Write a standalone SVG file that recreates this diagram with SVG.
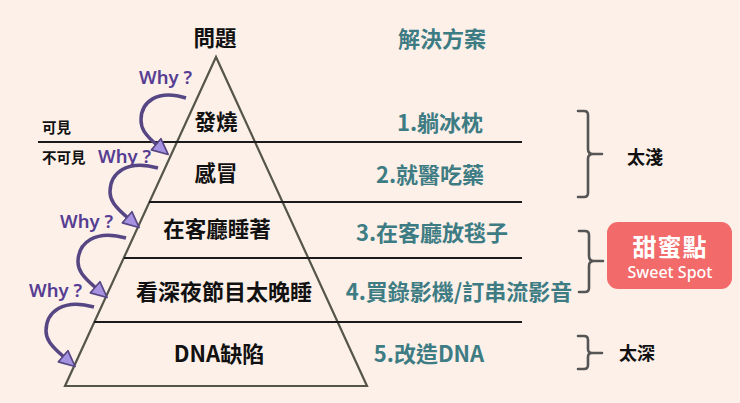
<svg xmlns="http://www.w3.org/2000/svg" width="740" height="403" viewBox="0 0 740 403">
<defs>
<style>
.bk{font-family:"Noto Sans CJK TC","Noto Sans",sans-serif;font-weight:700;fill:#111;text-anchor:middle}
.tl{font-family:"Noto Sans CJK TC","Noto Sans",sans-serif;font-weight:700;fill:#3e7c84;text-anchor:middle;font-size:22px}
.sm{font-family:"Noto Sans CJK TC","Noto Sans",sans-serif;font-weight:700;fill:#111;font-size:14.5px}
.why{font-family:"Noto Sans","Open Sans",sans-serif;font-weight:600;fill:#563d93;font-size:18.5px}
.hl{stroke:#1a1a1a;stroke-width:2;fill:none}
.br{stroke:#555;stroke-width:2.6;fill:none;stroke-linecap:round;stroke-linejoin:round}
.arc{stroke:#574684;stroke-width:3.5;fill:none;marker-end:url(#ah)}
</style>
<marker id="ah" markerUnits="userSpaceOnUse" markerWidth="18" markerHeight="18" viewBox="-1 -1 16 16" refX="1" refY="7" orient="auto">
<path d="M0,0.5 L14,7 L0,13.5 z" fill="#a592e0" stroke="#574684" stroke-width="1.5" stroke-linejoin="round"/>
</marker>
</defs>
<rect width="740" height="403" fill="#fcf0e8"/>
<g id="pyramid">
<polygon points="216,57 65,386 367,386" fill="none" stroke="#55554b" stroke-width="2.2" stroke-linejoin="miter"/>
<line class="hl" x1="38" y1="142" x2="522" y2="142"/>
<line class="hl" x1="149" y1="202" x2="522" y2="202"/>
<line class="hl" x1="124" y1="258" x2="522" y2="258"/>
<line class="hl" x1="94" y1="322" x2="522" y2="322"/>
</g>
<g id="headers">
<text class="bk" x="215" y="46" font-size="21.5">問題</text>
<text class="tl" x="442" y="47">解決方案</text>
</g>
<g id="level1">
<text class="bk" x="216" y="130" font-size="21.5">發燒</text>
<text class="tl" x="440" y="131">1.躺冰枕</text>
</g>
<g id="level2">
<text class="bk" x="216" y="181" font-size="21.5">感冒</text>
<text class="tl" x="430" y="183">2.就醫吃藥</text>
</g>
<g id="level3">
<text class="bk" x="217" y="237" font-size="21.5">在客廳睡著</text>
<text class="tl" x="432" y="241">3.在客廳放毯子</text>
</g>
<g id="level4">
<text class="bk" x="224" y="300" font-size="22">看深夜節目太晚睡</text>
<text class="tl" x="459" y="300">4.買錄影機/訂串流影音</text>
</g>
<g id="level5">
<text class="bk" x="219" y="362" font-size="22">DNA缺陷</text>
<text class="tl" x="429" y="362">5.改造DNA</text>
</g>
<g id="visibility">
<text class="sm" x="42" y="133">可見</text>
<text class="sm" x="42" y="163">不可見</text>
</g>
<g id="why-labels">
<text class="why" x="139" y="84">Why ?</text>
<text class="why" x="98" y="163">Why ?</text>
<text class="why" x="60" y="228">Why ?</text>
<text class="why" x="29" y="297">Why ?</text>
</g>
<g id="connectors">
<path class="arc" d="M186,98 C157,89 141,102 141,120 C141,128 144,134 157,145"/>
<path class="arc" d="M158,168 C127,159 110,173 110,192 C110,200 114,206 128,218"/>
<path class="arc" d="M126,238 C95,229 78,243 78,262 C78,270 82,276 96,288"/>
<path class="arc" d="M94,307 C63,298 46,312 46,331 C46,339 50,345 64,357"/>
</g>
<g id="bracket-shallow">
<path class="br" d="M578,111 L584,111 Q588,111 588,115 L588,149 Q588,154 593,154 L602,154 M593,154 Q588,154 588,159 L588,193 Q588,197 584,197 L578,197"/>
<text class="bk" x="645" y="164" font-size="18">太淺</text>
</g>
<g id="bracket-sweet">
<path class="br" d="M579,231 L585,231 Q589,231 589,235 L589,256 Q589,261 594,261 L603,261 M594,261 Q589,261 589,266 L589,288 Q589,292 585,292 L579,292"/>
<rect x="607" y="222" width="125" height="67" rx="11" fill="#f26a69"/>
<text x="670" y="256" font-family="Noto Sans CJK TC, Noto Sans, sans-serif" font-weight="700" font-size="24" fill="#fff" text-anchor="middle" letter-spacing="1">甜蜜點</text>
<text x="670" y="278" font-family="Noto Sans, Open Sans, sans-serif" font-weight="500" font-size="16" fill="#fff" text-anchor="middle">Sweet Spot</text>
</g>
<g id="bracket-deep">
<path class="br" d="M578,336 L584,336 Q588,336 588,340 L588,349 Q588,353 592,353 L602,353 M592,353 Q588,353 588,357 L588,365 Q588,369 584,369 L578,369"/>
<text class="bk" x="637" y="360" font-size="18">太深</text>
</g>
</svg>
